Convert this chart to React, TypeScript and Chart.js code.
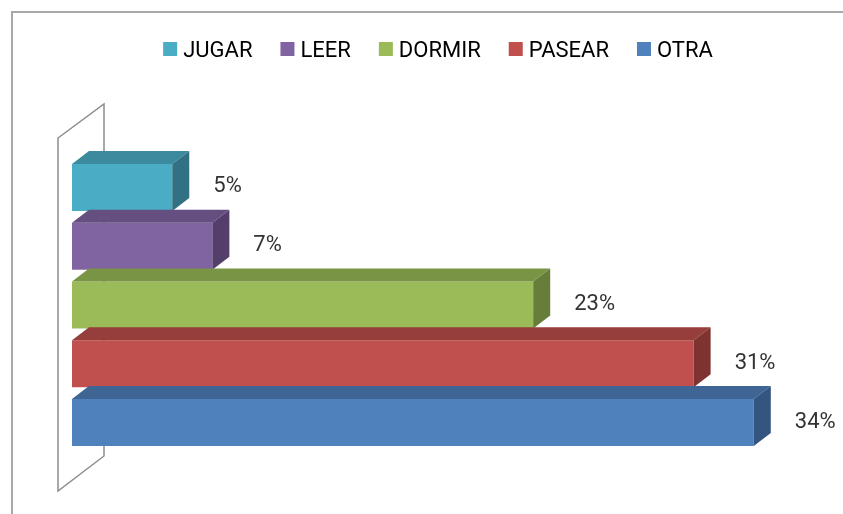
import React, { useEffect, useRef } from 'react';
import { Chart, registerables } from 'chart.js';

Chart.register(...registerables);

// ---- data ----
const categories = ['JUGAR', 'LEER', 'DORMIR', 'PASEAR', 'OTRA'];
const values = [5, 7, 23, 31, 34];
const valueLabels = ['5%', '7%', '23%', '31%', '34%'];
const frontColors = ['#4BACC6', '#8064A2', '#9BBB59', '#C0504D', '#4F81BD'];
const topColors = ['#3C8A9E', '#654F80', '#7A9445', '#953E3B', '#3E6594'];
const sideColors = ['#317183', '#543F6C', '#677D3A', '#7F3331', '#345580'];
const xMax = 38;

const FONT = "Roboto, 'Noto Sans', 'DejaVu Sans', sans-serif";
const DX = 17;
const DY = -13;

const threeD = {
  id: 'threeD',
  beforeDatasetsDraw(chart: any) {
    const ctx = chart.ctx as CanvasRenderingContext2D;
    const { top, bottom } = chart.chartArea;
    const x0 = chart.scales.x.getPixelForValue(0);
    ctx.save();
    // outer chart border (continues past the picture edges)
    ctx.strokeStyle = '#A8A8A8';
    ctx.lineWidth = 2;
    ctx.beginPath();
    ctx.moveTo(12, chart.height + 10);
    ctx.lineTo(12, 12);
    ctx.lineTo(chart.width + 10, 12);
    ctx.stroke();
    // 3D side wall
    ctx.strokeStyle = '#8C8C8C';
    ctx.lineWidth = 1.5;
    const fx = x0 - 14;
    const bx = x0 + 32;
    ctx.beginPath();
    ctx.moveTo(fx, top - 20);
    ctx.lineTo(bx, top - 54);
    ctx.lineTo(bx, bottom + 4);
    ctx.lineTo(fx, bottom + 39);
    ctx.closePath();
    ctx.stroke();
    ctx.restore();
  },
  afterDatasetsDraw(chart: any) {
    const ctx = chart.ctx as CanvasRenderingContext2D;
    const meta = chart.getDatasetMeta(0);
    ctx.save();
    meta.data.forEach((bar: any, i: number) => {
      const p = bar.getProps(['x', 'y', 'base', 'height'], true);
      const t = p.y - p.height / 2;
      const b = p.y + p.height / 2;
      const l = p.base;
      const r = p.x;
      // top face
      ctx.fillStyle = topColors[i];
      ctx.beginPath();
      ctx.moveTo(l, t);
      ctx.lineTo(r, t);
      ctx.lineTo(r + DX, t + DY);
      ctx.lineTo(l + DX, t + DY);
      ctx.closePath();
      ctx.fill();
      // side face
      ctx.fillStyle = sideColors[i];
      ctx.beginPath();
      ctx.moveTo(r, t);
      ctx.lineTo(r + DX, t + DY);
      ctx.lineTo(r + DX, b + DY);
      ctx.lineTo(r, b);
      ctx.closePath();
      ctx.fill();
      // value label
      ctx.fillStyle = '#333333';
      ctx.font = `22px ${FONT}`;
      ctx.textBaseline = 'alphabetic';
      ctx.textAlign = 'left';
      ctx.fillText(valueLabels[i], r + DX + 24, p.y - 3 + 8);
    });
    ctx.restore();
  },
  afterDraw(chart: any) {
    const ctx = chart.ctx as CanvasRenderingContext2D;
    ctx.save();
    ctx.font = `22px ${FONT}`;
    const widths = categories.map((c) => ctx.measureText(c).width);
    const box = 14;
    const gap = 6;
    const itemGap = 28;
    const total =
      widths.reduce((s, w) => s + box + gap + w, 0) + itemGap * (categories.length - 1);
    let x = 438 - total / 2;
    categories.forEach((c, i) => {
      ctx.fillStyle = frontColors[i];
      ctx.fillRect(x, 42, box, box);
      ctx.fillStyle = '#000000';
      ctx.textBaseline = 'alphabetic';
      ctx.textAlign = 'left';
      ctx.fillText(c, x + box + gap, 57);
      x += box + gap + widths[i] + itemGap;
    });
    ctx.restore();
  },
};

export default function App() {
  const ref = useRef<HTMLCanvasElement>(null);
  useEffect(() => {
    const chart = new Chart(ref.current as HTMLCanvasElement, {
      type: 'bar',
      data: {
        labels: categories,
        datasets: [
          {
            label: 'Porcentaje',
            data: values,
            backgroundColor: frontColors,
            borderWidth: 0,
            barPercentage: 0.8,
            categoryPercentage: 1,
          },
        ],
      },
      options: {
        indexAxis: 'y',
        responsive: false,
        animation: false,
        layout: { padding: { left: 72, right: 9, top: 158, bottom: 62 } },
        scales: {
          x: { display: false, min: 0, max: xMax, grid: { display: false } },
          y: { display: false, grid: { display: false } },
        },
        plugins: {
          legend: { display: false },
          tooltip: { enabled: false },
        },
      },
      plugins: [threeD],
    });
    return () => chart.destroy();
  }, []);
  return (
    <div
      style={{
        position: 'fixed',
        left: 0,
        top: 0,
        width: 843,
        height: 514,
        background: '#ffffff',
      }}
    >
      <canvas ref={ref} width={843} height={514} />
    </div>
  );
}
